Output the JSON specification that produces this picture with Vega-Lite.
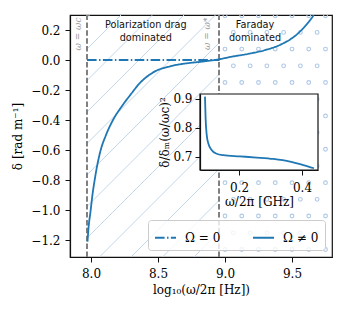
{
  "$schema": "https://vega.github.io/schema/vega-lite/v6.json",
  "width": 262,
  "height": 242,
  "autosize": {"type": "none"},
  "padding": {"left": 70, "top": 15, "right": 15, "bottom": 52},
  "background": "white",
  "config": {
    "view": {"stroke": "#111", "strokeWidth": 1.2},
    "axis": {
      "labelFont": "DejaVu Serif", "labelFontSize": 12, "labelColor": "#000",
      "titleFont": "DejaVu Serif", "titleFontSize": 12, "titleFontWeight": "normal", "titleColor": "#000",
      "tickColor": "#111", "domainColor": "#111", "tickSize": 5, "tickWidth": 1, "domainWidth": 1.2,
      "grid": false, "labelPadding": 3
    }
  },
  "layer": [
    {
      "encoding": {
        "x": {"field": "x", "type": "quantitative",
              "scale": {"domain": [7.8433, 9.7985], "nice": false, "zero": false},
              "axis": {"orient": "bottom", "values": [8, 8.5, 9, 9.5], "format": ".1f", "title": "log₁₀(ω/2π [Hz])", "labelPadding": 6, "titlePadding": 5}},
        "y": {"field": "y", "type": "quantitative",
              "scale": {"domain": [-1.3133, 0.3], "nice": false, "zero": false},
              "axis": {"orient": "left", "values": [-1.2, -1, -0.8, -0.6, -0.4, -0.2, 0, 0.2], "format": ".1f", "title": "δ [rad m⁻¹]", "labelPadding": 5, "titlePadding": 6}}
      },
      "layer": [
        {
          "data": {"values": [
            {"x": 7.9701, "y": 0.2833, "x2": 7.9888, "y2": 0.3},
            {"x": 7.9701, "y": 0.0733, "x2": 8.2239, "y2": 0.3},
            {"x": 7.9701, "y": -0.1367, "x2": 8.459, "y2": 0.3},
            {"x": 7.9701, "y": -0.3467, "x2": 8.694, "y2": 0.3},
            {"x": 7.9701, "y": -0.5567, "x2": 8.9291, "y2": 0.3},
            {"x": 7.9701, "y": -0.7667, "x2": 8.9552, "y2": 0.1133},
            {"x": 7.9701, "y": -0.9767, "x2": 8.9552, "y2": -0.0967},
            {"x": 7.9701, "y": -1.1867, "x2": 8.9552, "y2": -0.3067},
            {"x": 8.0634, "y": -1.3133, "x2": 8.9552, "y2": -0.5167},
            {"x": 8.2985, "y": -1.3133, "x2": 8.9552, "y2": -0.7267},
            {"x": 8.5336, "y": -1.3133, "x2": 8.9552, "y2": -0.9367},
            {"x": 8.7687, "y": -1.3133, "x2": 8.9552, "y2": -1.1467}
          ]},
          "mark": {"type": "rule", "color": "#c3d7ed", "strokeWidth": 1},
          "encoding": {"x2": {"field": "x2"}, "y2": {"field": "y2"}}
        },
        {
          "data": {"values": [
            {"x": 9.0, "y": 0.295}, {"x": 9.125, "y": 0.295}, {"x": 9.25, "y": 0.295}, {"x": 9.375, "y": 0.295}, {"x": 9.5, "y": 0.295}, {"x": 9.625, "y": 0.295}, {"x": 9.75, "y": 0.295},
            {"x": 9.0625, "y": 0.184}, {"x": 9.1875, "y": 0.184}, {"x": 9.3125, "y": 0.184}, {"x": 9.4375, "y": 0.184}, {"x": 9.5625, "y": 0.184}, {"x": 9.6875, "y": 0.184},
            {"x": 9.0, "y": 0.073}, {"x": 9.125, "y": 0.073}, {"x": 9.25, "y": 0.073}, {"x": 9.375, "y": 0.073}, {"x": 9.5, "y": 0.073}, {"x": 9.625, "y": 0.073}, {"x": 9.75, "y": 0.073},
            {"x": 9.0625, "y": -0.039}, {"x": 9.1875, "y": -0.039}, {"x": 9.3125, "y": -0.039}, {"x": 9.4375, "y": -0.039}, {"x": 9.5625, "y": -0.039}, {"x": 9.6875, "y": -0.039},
            {"x": 9.0, "y": -0.150}, {"x": 9.125, "y": -0.150}, {"x": 9.25, "y": -0.150}, {"x": 9.375, "y": -0.150}, {"x": 9.5, "y": -0.150}, {"x": 9.625, "y": -0.150}, {"x": 9.75, "y": -0.150},
            {"x": 9.0625, "y": -0.261}, {"x": 9.1875, "y": -0.261}, {"x": 9.3125, "y": -0.261}, {"x": 9.4375, "y": -0.261}, {"x": 9.5625, "y": -0.261}, {"x": 9.6875, "y": -0.261},
            {"x": 9.0, "y": -0.373}, {"x": 9.125, "y": -0.373}, {"x": 9.25, "y": -0.373}, {"x": 9.375, "y": -0.373}, {"x": 9.5, "y": -0.373}, {"x": 9.625, "y": -0.373}, {"x": 9.75, "y": -0.373},
            {"x": 9.0625, "y": -0.484}, {"x": 9.1875, "y": -0.484}, {"x": 9.3125, "y": -0.484}, {"x": 9.4375, "y": -0.484}, {"x": 9.5625, "y": -0.484}, {"x": 9.6875, "y": -0.484},
            {"x": 9.0, "y": -0.595}, {"x": 9.125, "y": -0.595}, {"x": 9.25, "y": -0.595}, {"x": 9.375, "y": -0.595}, {"x": 9.5, "y": -0.595}, {"x": 9.625, "y": -0.595}, {"x": 9.75, "y": -0.595},
            {"x": 9.0625, "y": -0.706}, {"x": 9.1875, "y": -0.706}, {"x": 9.3125, "y": -0.706}, {"x": 9.4375, "y": -0.706}, {"x": 9.5625, "y": -0.706}, {"x": 9.6875, "y": -0.706},
            {"x": 9.0, "y": -0.818}, {"x": 9.125, "y": -0.818}, {"x": 9.25, "y": -0.818}, {"x": 9.375, "y": -0.818}, {"x": 9.5, "y": -0.818}, {"x": 9.625, "y": -0.818}, {"x": 9.75, "y": -0.818},
            {"x": 9.0625, "y": -0.929}, {"x": 9.1875, "y": -0.929}, {"x": 9.3125, "y": -0.929}, {"x": 9.4375, "y": -0.929}, {"x": 9.5625, "y": -0.929}, {"x": 9.6875, "y": -0.929},
            {"x": 9.0, "y": -1.040}, {"x": 9.125, "y": -1.040}, {"x": 9.25, "y": -1.040}, {"x": 9.375, "y": -1.040}, {"x": 9.5, "y": -1.040}, {"x": 9.625, "y": -1.040}, {"x": 9.75, "y": -1.040},
            {"x": 9.0625, "y": -1.152}, {"x": 9.1875, "y": -1.152}, {"x": 9.3125, "y": -1.152}, {"x": 9.4375, "y": -1.152}, {"x": 9.5625, "y": -1.152}, {"x": 9.6875, "y": -1.152},
            {"x": 9.0, "y": -1.263}, {"x": 9.125, "y": -1.263}, {"x": 9.25, "y": -1.263}, {"x": 9.375, "y": -1.263}, {"x": 9.5, "y": -1.263}, {"x": 9.625, "y": -1.263}, {"x": 9.75, "y": -1.263}
          ]},
          "mark": {"type": "point", "shape": "circle", "filled": false, "size": 14, "stroke": "#b0c9e6", "strokeWidth": 1.1, "opacity": 1, "clip": true}
        },
        {
          "data": {"values": [
            {"x": 7.9701, "y": -1.3133, "y2": 0.3},
            {"x": 8.9552, "y": -1.3133, "y2": 0.3}
          ]},
          "mark": {"type": "rule", "color": "#808080", "strokeWidth": 2, "strokeDash": [5.5, 2.4]},
          "encoding": {"y2": {"field": "y2"}}
        },
        {
          "data": {"values": [
            {"x": 7.903, "y": 0.283, "label": "ω = ωc"},
            {"x": 8.866, "y": 0.283, "label": "ω = ω*"}
          ]},
          "mark": {"type": "text", "angle": 270, "align": "right", "baseline": "middle", "font": "DejaVu Serif", "fontStyle": "italic", "fontSize": 9, "color": "#9a9a9a"},
          "encoding": {"text": {"field": "label"}}
        },
        {
          "data": {"values": [
            {"x": 8.409, "y": 0.235, "label": "Polarization drag"},
            {"x": 8.409, "y": 0.146, "label": "dominated"},
            {"x": 9.224, "y": 0.235, "label": "Faraday"},
            {"x": 9.224, "y": 0.146, "label": "dominated"}
          ]},
          "mark": {"type": "text", "align": "center", "baseline": "middle", "font": "DejaVu Sans", "fontSize": 9.7, "color": "#111"},
          "encoding": {"text": {"field": "label"}}
        },
        {
          "data": {"values": [
            {"series": "Ω = 0", "x": 7.9701, "y": 0},
            {"series": "Ω = 0", "x": 8.96, "y": 0},
            {"series": "Ω ≠ 0", "x": 7.9739, "y": -1.211},
            {"series": "Ω ≠ 0", "x": 7.9828, "y": -1.107},
            {"series": "Ω ≠ 0", "x": 7.9963, "y": -1.011},
            {"series": "Ω ≠ 0", "x": 8.0097, "y": -0.907},
            {"series": "Ω ≠ 0", "x": 8.0261, "y": -0.807},
            {"series": "Ω ≠ 0", "x": 8.047, "y": -0.7},
            {"series": "Ω ≠ 0", "x": 8.0709, "y": -0.605},
            {"series": "Ω ≠ 0", "x": 8.1119, "y": -0.5},
            {"series": "Ω ≠ 0", "x": 8.1642, "y": -0.4},
            {"series": "Ω ≠ 0", "x": 8.2313, "y": -0.307},
            {"series": "Ω ≠ 0", "x": 8.2985, "y": -0.227},
            {"series": "Ω ≠ 0", "x": 8.3582, "y": -0.16},
            {"series": "Ω ≠ 0", "x": 8.4649, "y": -0.082},
            {"series": "Ω ≠ 0", "x": 8.5896, "y": -0.042},
            {"series": "Ω ≠ 0", "x": 8.714, "y": -0.022},
            {"series": "Ω ≠ 0", "x": 8.838, "y": -0.01},
            {"series": "Ω ≠ 0", "x": 8.95, "y": 0.004},
            {"series": "Ω ≠ 0", "x": 9.05, "y": 0.022},
            {"series": "Ω ≠ 0", "x": 9.174, "y": 0.041},
            {"series": "Ω ≠ 0", "x": 9.299, "y": 0.066},
            {"series": "Ω ≠ 0", "x": 9.423, "y": 0.106},
            {"series": "Ω ≠ 0", "x": 9.522, "y": 0.16},
            {"series": "Ω ≠ 0", "x": 9.597, "y": 0.225},
            {"series": "Ω ≠ 0", "x": 9.647, "y": 0.28},
            {"series": "Ω ≠ 0", "x": 9.662, "y": 0.3}
          ]},
          "mark": {"type": "line", "color": "#1f77b4", "strokeWidth": 1.8, "interpolate": "monotone", "clip": true},
          "encoding": {
            "strokeDash": {"field": "series", "type": "nominal",
              "scale": {"domain": ["Ω = 0", "Ω ≠ 0"], "range": [[9.6, 2.4, 1.5, 2.4], [1, 0]]},
              "legend": {"title": null, "orient": "bottom-right", "direction": "horizontal", "offset": 7,
                "fillColor": "rgba(255,255,255,0.8)", "strokeColor": "#cccccc", "cornerRadius": 3, "padding": 6,
                "symbolType": "stroke", "symbolSize": 441, "symbolStrokeWidth": 2, "symbolStrokeColor": "#1f77b4",
                "labelFont": "DejaVu Serif", "labelFontSize": 12, "labelColor": "#000", "labelOffset": 8, "columnPadding": 28}}
          }
        }
      ]
    },
    {
      "encoding": {
        "x": {"field": "ix", "type": "quantitative",
              "scale": {"domain": [0.0762, 0.4508], "range": [130, 248], "nice": false, "zero": false},
              "axis": {"orient": "bottom", "offset": -87, "zindex": 1, "values": [0.2, 0.4], "format": ".1f", "title": "ω/2π [GHz]", "labelPadding": 7, "titlePadding": 3}},
        "y": {"field": "iy", "type": "quantitative",
              "scale": {"domain": [0.655, 0.917], "range": [155, 79], "nice": false, "zero": false},
              "axis": {"orient": "left", "offset": -130, "zindex": 1, "values": [0.7, 0.8, 0.9], "format": ".1f", "title": "δ/δₘ(ω/ωc)²", "labelPadding": 3, "titlePadding": 1}}
      },
      "layer": [
        {
          "data": {"values": [{"ix": 0.0762, "iy": 0.655, "ix2": 0.4508, "iy2": 0.917}]},
          "mark": {"type": "rect", "fill": "white", "stroke": "#111", "strokeWidth": 1.2},
          "encoding": {"x2": {"field": "ix2"}, "y2": {"field": "iy2"}}
        },
        {
          "data": {"values": [
            {"ix": 0.092, "iy": 0.908},
            {"ix": 0.094, "iy": 0.833},
            {"ix": 0.0975, "iy": 0.776},
            {"ix": 0.1025, "iy": 0.747},
            {"ix": 0.113, "iy": 0.724},
            {"ix": 0.129, "iy": 0.711},
            {"ix": 0.15, "iy": 0.706},
            {"ix": 0.203, "iy": 0.702},
            {"ix": 0.256, "iy": 0.698},
            {"ix": 0.309, "iy": 0.693},
            {"ix": 0.362, "iy": 0.684},
            {"ix": 0.404, "iy": 0.672},
            {"ix": 0.438, "iy": 0.661}
          ]},
          "mark": {"type": "line", "color": "#1f77b4", "strokeWidth": 1.8, "interpolate": "monotone"}
        }
      ]
    }
  ],
  "resolve": {"scale": {"x": "independent", "y": "independent"}, "axis": {"x": "independent", "y": "independent"}}
}
